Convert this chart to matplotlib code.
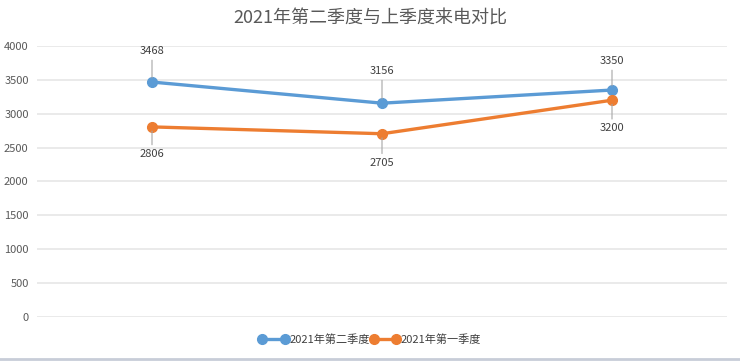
import matplotlib.pyplot as plt
from matplotlib.lines import Line2D

plt.rcParams['font.family'] = ['Noto Sans CJK SC', 'DejaVu Sans']

categories = ["1", "2", "3"]
q2_values = [3468, 3156, 3350]
q1_values = [2806, 2705, 3200]
series_names = ["2021年第二季度", "2021年第一季度"]
y_ticks = [0, 500, 1000, 1500, 2000, 2500, 3000, 3500, 4000]

blue = "#5B9BD5"
orange = "#ED7D31"

fig = plt.figure(figsize=(7.40, 3.61), dpi=100)
ax = fig.add_axes([37 / 740, 44 / 361, 690 / 740, 271 / 361])

x = list(range(len(categories)))
ax.plot(x, q2_values, color=blue, lw=2.4, marker="o", ms=7, label=series_names[0], zorder=3)
ax.plot(x, q1_values, color=orange, lw=2.4, marker="o", ms=7, label=series_names[1], zorder=3)

# data labels with leader lines
q2_offsets = [26, 27, 24]
q1_offsets = [-22, -24, -23]
for xi, v, off in zip(x, q2_values, q2_offsets):
    ax.annotate(str(v), (xi, v), xytext=(0, off), textcoords="offset pixels",
                ha="center", va="bottom", fontsize=8, color="#404040",
                arrowprops=dict(arrowstyle="-", color="#a6a6a6", lw=0.8, shrinkA=1, shrinkB=3))
for xi, v, off in zip(x, q1_values, q1_offsets):
    ax.annotate(str(v), (xi, v), xytext=(0, off), textcoords="offset pixels",
                ha="center", va="top", fontsize=8, color="#404040",
                arrowprops=dict(arrowstyle="-", color="#a6a6a6", lw=0.8, shrinkA=1, shrinkB=3))

ax.set_xlim(-0.5, 2.5)
ax.set_ylim(0, 4000)
ax.set_yticks(y_ticks)
ax.set_xticks([])
ax.tick_params(axis="y", length=0, labelsize=8, labelcolor="#595959", pad=6)
ax.grid(axis="y", color="#e6e6e6", lw=1.2)
for s in ax.spines.values():
    s.set_visible(False)
ax.set_axisbelow(True)

fig.text(0.5, 1 - 19 / 361, "2021年第二季度与上季度来电对比", ha="center", va="center",
         fontsize=13, color="#595959")

handles = [Line2D([0], [0], color=blue, lw=2.4, marker="o", ms=7),
           Line2D([0], [0], color=orange, lw=2.4, marker="o", ms=7)]
fig.legend(handles, series_names, loc="center", bbox_to_anchor=(0.5, 1 - 340 / 361),
           ncol=2, frameon=False, fontsize=8, numpoints=2, handlelength=2.6,
           handletextpad=0.1, columnspacing=0.1, labelcolor="#404040")

fig.add_artist(Line2D([0, 1], [1 - 359 / 361] * 2, color="#c8cdd8", lw=2, transform=fig.transFigure))

fig.savefig("out.png", dpi=100)
